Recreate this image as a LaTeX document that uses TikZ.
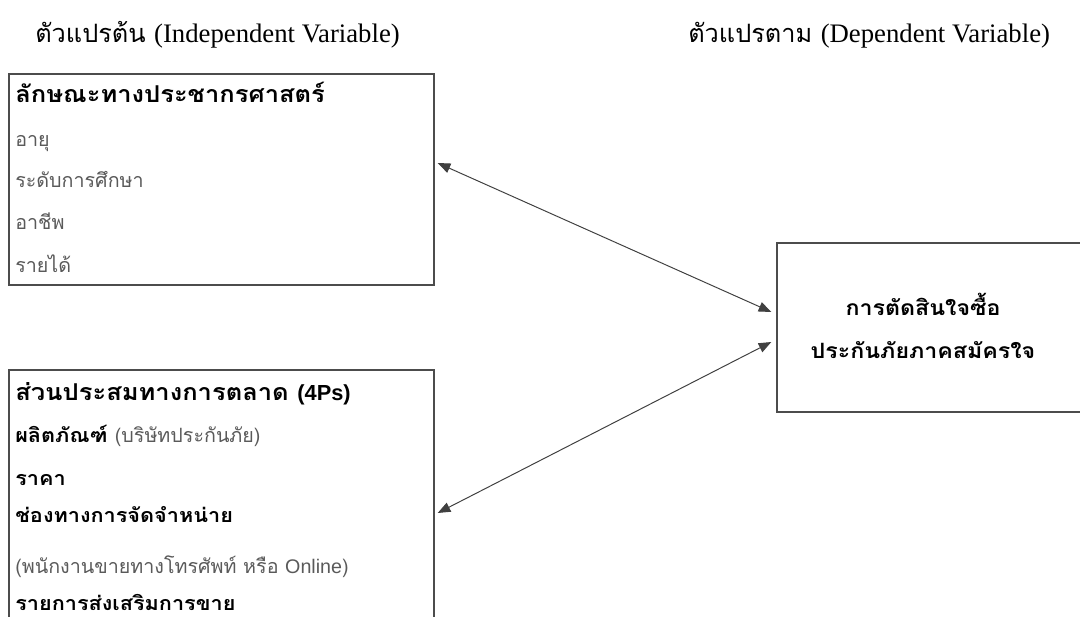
\documentclass[tikz,border=0pt]{standalone}
\usepackage{fontspec}
\usetikzlibrary{arrows.meta}
\setmainfont{Liberation Serif}
\newfontfamily\thai[Script=Thai]{Loma}
\newfontfamily\thaiwide[Script=Thai,FakeStretch=1.1]{Loma}
\newfontfamily\lat{Liberation Sans}
\definecolor{txtgray}{HTML}{5A5A5A}

\begin{document}
\begin{tikzpicture}[x=0.025cm, y=-0.025cm,
    box/.style={draw=black!70, line width=0.9pt, rectangle, inner sep=0pt},
    item/.style={anchor=base west, inner sep=0pt, text=txtgray,
        font=\thai\fontsize{14}{17}\selectfont},
    label/.style={anchor=base west, inner sep=0pt,
        font=\thaiwide\fontsize{14}{17}\selectfont\bfseries},
    title/.style={label, font=\thaiwide\fontsize{16.5}{19}\selectfont\bfseries},
    caption/.style={anchor=base west, inner sep=0pt,
        font=\thai\fontsize{18}{22}\selectfont},
    arr/.style={{Triangle[length=9pt,width=7pt]}-{Triangle[length=9pt,width=7pt]},
        draw=black!75, line width=0.7pt}]
\useasboundingbox (0,0) rectangle (1080,617);
\clip (0,0) rectangle (1080,617);

% headings
\node[caption] (indep) at (35,43) {ตัวแปรต้น {\rmfamily\fontsize{19}{22}\selectfont (Independent Variable)}};
\node[caption] (dep) at (688,43) {ตัวแปรตาม {\rmfamily\fontsize{19}{22}\selectfont (Dependent Variable)}};

% boxes
\node[box, minimum width=10.625cm, minimum height=5.275cm] (demo) at (221.5,179.5) {};
\node[box, minimum width=10.625cm, minimum height=7.25cm] (mix) at (221.5,515) {};
\node[box, minimum width=7.825cm, minimum height=4.225cm] (decision) at (933.5,327.5) {};

% demographic items
\node[title] (demo_t) at (15,103) {ลักษณะทางประชากรศาสตร์};
\node[item] (age) at (15,147) {อายุ};
\node[item] (edu) at (15,188) {ระดับการศึกษา};
\node[item] (job) at (15,230) {อาชีพ};
\node[item] (income) at (15,272) {รายได้};

% marketing mix items
\node[title] (mix_t) at (15,400) {ส่วนประสมทางการตลาด {\lat\fontsize{15.5}{19}\selectfont(4Ps)}};
\node[label] (product) at (15,442) {ผลิตภัณฑ์ {\thai\mdseries\color{txtgray}(บริษัทประกันภัย)}};
\node[label] (price) at (15,485) {ราคา};
\node[label] (place) at (15,522) {ช่องทางการจัดจำหน่าย};
\node[item] (place_d) at (15,573) {(พนักงานขายทางโทรศัพท์ หรือ {\lat Online})};
\node[label] (promo) at (15,610) {รายการส่งเสริมการขาย};

% dependent variable
\node[label, anchor=base, font=\thaiwide\fontsize{15}{18}\selectfont\bfseries] (dec_1) at (923,315) {การตัดสินใจซื้อ};
\node[label, anchor=base, font=\thaiwide\fontsize{15}{18}\selectfont\bfseries] (dec_2) at (923,358) {ประกันภัยภาคสมัครใจ};

\draw[arr] ([shift={(3,-16.5)}]demo.east) -- ([shift={(-5,-15.5)}]decision.west);
\draw[arr] ([shift={(3,-2)}]mix.east) -- ([shift={(-5,14.5)}]decision.west);
\end{tikzpicture}
\end{document}
